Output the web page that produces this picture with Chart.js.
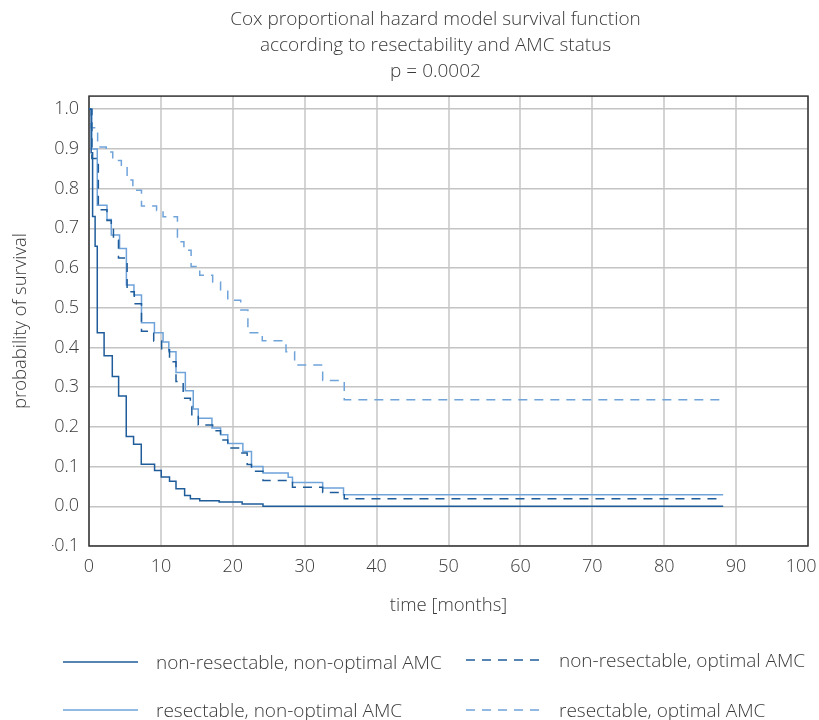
<!DOCTYPE html>
<html>
<head>
<meta charset="utf-8">
<script src="https://cdn.jsdelivr.net/npm/chart.js@4.4.1/dist/chart.umd.min.js"></script>
<style>
  body { margin: 0; background: #fff; }
  #wrap { position: relative; width: 819px; height: 720px; }
  .legend-item { position: absolute; display: flex; align-items: center; height: 24px;
    font-family: 'Open Sans', 'Noto Sans', sans-serif; font-weight: 300; font-size: 19px; color: #3a3a3a; white-space: nowrap; }
  .legend-item svg { margin-right: 18px; }
</style>
</head>
<body>
<div id="wrap">
  <canvas id="km"></canvas>
</div>
<script>
// series names (legend order)
const seriesNames = [
  "non-resectable, non-optimal AMC",
  "non-resectable, optimal AMC",
  "resectable, non-optimal AMC",
  "resectable, optimal AMC"
];

// step points: time in months where survival drops to the given value
const nonResNonOptTime = [0, 0.3, 0.5, 0.85, 1.15, 2.1, 3.24, 4.12, 5.18, 6.2, 7.27, 9.12, 10.05, 11.2, 12.1, 13.3, 14.1, 15.4, 18.1, 21.3, 24.2, 88.2];
const nonResNonOptSurv = [1.0, 0.89, 0.73, 0.655, 0.437, 0.379, 0.327, 0.278, 0.176, 0.156, 0.106, 0.09, 0.074, 0.063, 0.044, 0.027, 0.019, 0.014, 0.011, 0.006, 0.0, 0.0];

const nonResOptTime = [0, 0.4, 1.3, 2.5, 3.1, 3.4, 4.1, 5.3, 6.3, 7.3, 9.0, 10.1, 11.2, 12.1, 13.1, 14.1, 14.3, 15.2, 17.2, 18.3, 19.3, 20.8, 22.0, 22.6, 24.2, 28.3, 32.5, 35.5, 88.2];
const nonResOptSurv = [1.0, 0.876, 0.747, 0.72, 0.70, 0.67, 0.625, 0.54, 0.51, 0.441, 0.416, 0.394, 0.364, 0.314, 0.272, 0.251, 0.226, 0.205, 0.19, 0.167, 0.147, 0.134, 0.105, 0.088, 0.065, 0.048, 0.035, 0.019, 0.019];

const resNonOptTime = [0, 0.4, 1.15, 2.5, 3.1, 4.25, 5.2, 6.25, 7.3, 9.1, 10.3, 11.1, 12.1, 13.4, 14.5, 15.2, 17.1, 18.3, 19.3, 21.4, 22.6, 24.2, 27.7, 28.3, 32.5, 35.4, 88.2];
const resNonOptSurv = [1.0, 0.90, 0.758, 0.722, 0.683, 0.649, 0.557, 0.532, 0.462, 0.437, 0.414, 0.389, 0.337, 0.291, 0.245, 0.222, 0.197, 0.18, 0.158, 0.138, 0.10, 0.084, 0.073, 0.06, 0.046, 0.029, 0.029];

const resOptTime = [0, 0.3, 1.2, 2.4, 3.3, 4.5, 5.3, 6.1, 7.3, 9.4, 10.3, 12.3, 13.2, 14.2, 15.4, 17.2, 18.3, 19.3, 21.1, 22.1, 24.1, 27.4, 28.6, 32.5, 35.5, 88.2];
const resOptSurv = [1.0, 0.953, 0.905, 0.892, 0.871, 0.859, 0.822, 0.796, 0.756, 0.745, 0.729, 0.666, 0.645, 0.604, 0.582, 0.565, 0.545, 0.519, 0.494, 0.437, 0.417, 0.389, 0.356, 0.317, 0.268, 0.268];

// axis ticks
const xTicks = [0, 10, 20, 30, 40, 50, 60, 70, 80, 90, 100];
const yTicks = [-0.1, 0, 0.1, 0.2, 0.3, 0.4, 0.5, 0.6, 0.7, 0.8, 0.9, 1.0];

const darkBlue = "#1f5c9a";
const lightBlue = "#6fa3da";
const seriesColors = [darkBlue, darkBlue, lightBlue, lightBlue];
const seriesDashed = [false, true, false, true];

const fontFamily = "'Open Sans', 'Noto Sans', sans-serif";
Chart.defaults.font.family = fontFamily;
Chart.defaults.font.weight = 300;
Chart.defaults.color = "#3a3a3a";

function toPoints(times, surv) {
  return times.map((t, i) => ({ x: t, y: surv[i] }));
}

const seriesData = [
  toPoints(nonResNonOptTime, nonResNonOptSurv),
  toPoints(nonResOptTime, nonResOptSurv),
  toPoints(resNonOptTime, resNonOptSurv),
  toPoints(resOptTime, resOptSurv)
];

// frame around the plot area (top and right sides are not drawn by the axes)
const frame = {
  id: "frame",
  beforeDatasetsDraw(chart) {
    const { ctx, chartArea: a } = chart;
    ctx.save();
    ctx.strokeStyle = "#333";
    ctx.lineWidth = 1.5;
    ctx.strokeRect(a.left, a.top, a.right - a.left, a.bottom - a.top);
    ctx.restore();
  }
};

new Chart(document.getElementById("km"), {
  type: "line",
  data: {
    datasets: seriesData.map((d, i) => ({
      label: seriesNames[i],
      data: d,
      stepped: "before",
      borderColor: seriesColors[i],
      borderWidth: 1.5,
      borderDash: seriesDashed[i] ? [9, 7] : [],
      pointRadius: 0,
      fill: false
    }))
  },
  options: {
    responsive: true,
    maintainAspectRatio: false,
    animation: false,
    layout: { padding: { left: 52, right: 0, top: 0, bottom: 0 } },
    plugins: {
      legend: { display: false },
      tooltip: { enabled: false },
      title: {
        display: true,
        text: ["Cox proportional hazard model survival function", "according to resectability and AMC status", "p = 0.0002"],
        font: { size: 19, weight: 300, lineHeight: 1.37 },
        color: "#3a3a3a",
        padding: { top: 7, bottom: 11 }
      }
    },
    scales: {
      x: {
        type: "linear",
        min: 0,
        max: 100,
        afterBuildTicks: s => { s.ticks = xTicks.map(v => ({ value: v })); },
        afterFit: s => { s.height = 174; s.paddingRight = 11; s.paddingLeft = 0; },
        // last label is pulled a little inward so it stays on the canvas
        ticks: { font: { size: 18 }, padding: 10, maxRotation: 0,
          callback: (v, i, arr) => i === arr.length - 1 ? v + "\u2002 " : String(v) },
        grid: { color: "#d4d4d4", lineWidth: 2, drawTicks: false },
        border: { display: false },
        title: { display: true, text: "time [months]", font: { size: 18.5 }, padding: { top: 0, bottom: 103 } }
      },
      y: {
        type: "linear",
        min: -0.1,
        max: 1.033,
        afterBuildTicks: s => { s.ticks = yTicks.map(v => ({ value: v })); },
        afterFit: s => { s.width = 37; },
        ticks: { font: { size: 18 }, padding: 10, callback: v => v.toFixed(1) },
        grid: { color: "#c4c4c4", lineWidth: 1.5, drawTicks: false },
        border: { display: false },
        title: { display: true, text: "probability of survival", font: { size: 18.5 }, padding: { top: -42, bottom: 0 } }
      }
    }
  },
  plugins: [frame]
});

// legend: two columns, two rows
const legendPos = [
  { left: 63, top: 650 },
  { left: 466, top: 648 },
  { left: 63, top: 698 },
  { left: 466, top: 698 }
];
const wrap = document.getElementById("wrap");
seriesNames.forEach((name, i) => {
  const item = document.createElement("div");
  item.className = "legend-item";
  item.style.left = legendPos[i].left + "px";
  item.style.top = legendPos[i].top + "px";
  const dash = seriesDashed[i] ? ' stroke-dasharray="9 7"' : "";
  item.innerHTML = '<svg width="75" height="4"><line x1="0" y1="2" x2="75" y2="2" stroke="' +
    seriesColors[i] + '" stroke-width="1.5"' + dash + '/></svg><span>' + name + '</span>';
  wrap.appendChild(item);
});
</script>
</body>
</html>
